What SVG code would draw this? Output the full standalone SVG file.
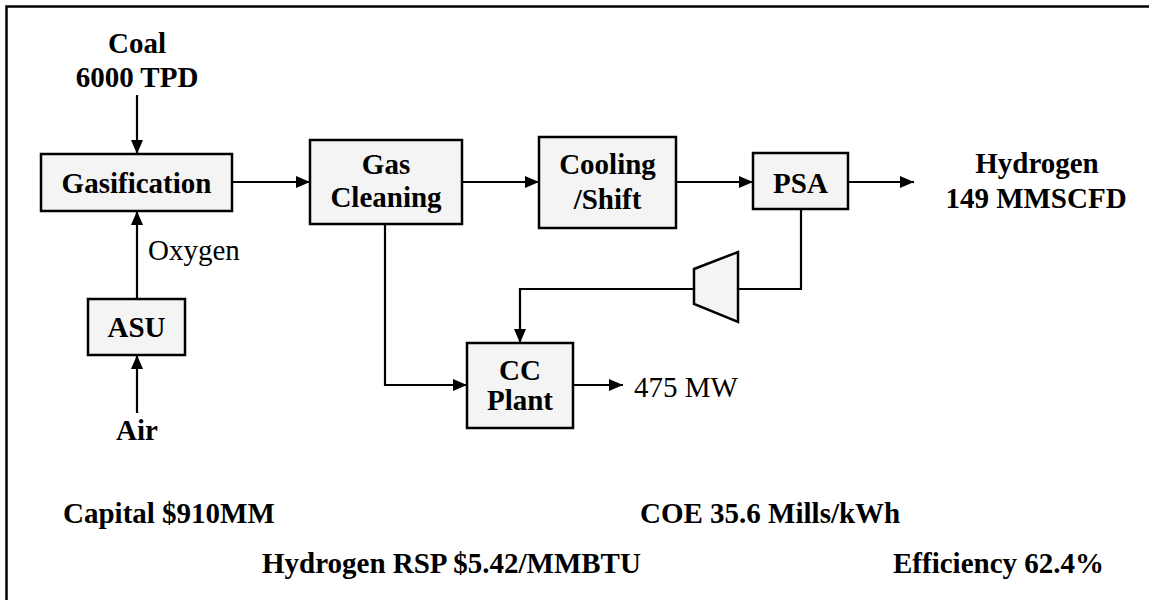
<svg xmlns="http://www.w3.org/2000/svg" width="1149" height="600" viewBox="0 0 1149 600">
<style>
.box{fill:#f4f4f4;stroke:#000;stroke-width:2.5}
text{font-family:'Liberation Serif',Tinos,'Times New Roman',Times,'DejaVu Serif',serif;font-size:29px;fill:#000}
.b{font-weight:bold}
.c{text-anchor:middle}
.ln{fill:none;stroke:#000;stroke-width:2.2}
</style>
<defs>
<marker id="ah" viewBox="0 0 14 12" refX="14" refY="6" markerWidth="14" markerHeight="12" markerUnits="userSpaceOnUse" orient="auto">
<path d="M0,0 L14,6 L0,12 Z" fill="#000"/>
</marker>
</defs>
<rect width="1149" height="600" fill="#fff"/>
<path d="M6.5,600 V6.5 H1149" fill="none" stroke="#000" stroke-width="2.5"/>

<g id="connectors">
<path class="ln" d="M137,95 V154" marker-end="url(#ah)"/>
<path class="ln" d="M137,299 V211" marker-end="url(#ah)"/>
<path class="ln" d="M137,413 V355" marker-end="url(#ah)"/>
<path class="ln" d="M232,182 H310" marker-end="url(#ah)"/>
<path class="ln" d="M462,182 H539" marker-end="url(#ah)"/>
<path class="ln" d="M676,182 H753" marker-end="url(#ah)"/>
<path class="ln" d="M848,182 H914" marker-end="url(#ah)"/>
<path class="ln" d="M801,209 V289 H738"/>
<path class="ln" d="M694,289 H520 V343" marker-end="url(#ah)"/>
<path class="ln" d="M385,224 V385 H467" marker-end="url(#ah)"/>
<path class="ln" d="M573,385 H623" marker-end="url(#ah)"/>
</g>

<g id="coal"><text class="b c" x="137" y="53">Coal</text><text class="b c" x="137" y="87">6000 TPD</text></g>
<g id="gasification"><rect class="box" x="41" y="154" width="191" height="57"/><text class="b c" x="136.5" y="193">Gasification</text></g>
<g id="oxygen"><text x="148" y="260">Oxygen</text></g>
<g id="asu"><rect class="box" x="88" y="299" width="97" height="56"/><text class="b c" x="136.5" y="337">ASU</text></g>
<g id="air"><text class="b c" x="137" y="440">Air</text></g>
<g id="gascleaning"><rect class="box" x="310" y="140" width="152" height="84"/><text class="b c" x="386" y="174">Gas</text><text class="b c" x="386" y="207">Cleaning</text></g>
<g id="cooling"><rect class="box" x="539" y="137" width="137" height="91"/><text class="b c" x="607.5" y="174">Cooling</text><text class="b c" x="607.5" y="209">/Shift</text></g>
<g id="psa"><rect class="box" x="753" y="153" width="95" height="56"/><text class="b c" x="800.5" y="193">PSA</text></g>
<g id="hydrogen"><text class="b c" x="1037" y="173">Hydrogen</text><text class="b c" x="1036" y="208">149 MMSCFD</text></g>
<g id="compressor"><polygon class="box" points="694,269 738,252 738,322 694,304"/></g>
<g id="ccplant"><rect class="box" x="467" y="343" width="106" height="85"/><text class="b c" x="520" y="380">CC</text><text class="b c" x="520" y="410">Plant</text></g>
<g id="power"><text x="634" y="397">475 MW</text></g>
<g id="summary">
<text class="b" x="63" y="523">Capital $910MM</text>
<text class="b" x="640" y="523">COE 35.6 Mills/kWh</text>
<text class="b" x="262" y="573">Hydrogen RSP $5.42/MMBTU</text>
<text class="b" x="893" y="573">Efficiency 62.4%</text>
</g>
</svg>
